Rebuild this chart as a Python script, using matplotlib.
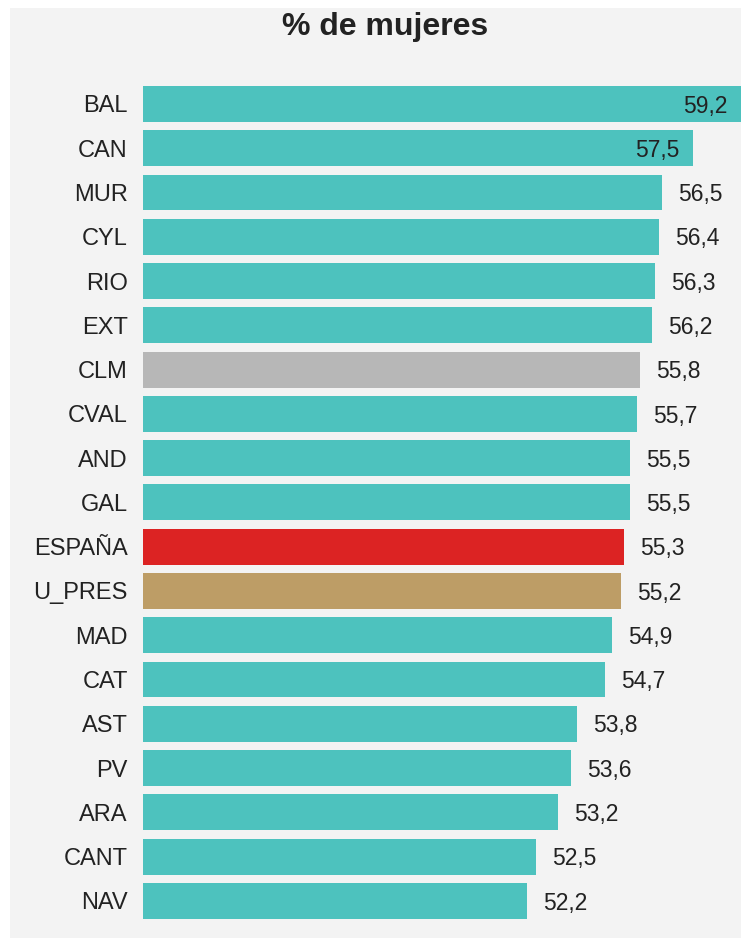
import matplotlib
matplotlib.use("Agg")
import matplotlib.pyplot as plt
from matplotlib.patches import Rectangle

regiones = ["BAL", "CAN", "MUR", "CYL", "RIO", "EXT", "CLM", "CVAL", "AND", "GAL",
            "ESPAÑA", "U_PRES", "MAD", "CAT", "AST", "PV", "ARA", "CANT", "NAV"]
valores = [59.2, 57.5, 56.5, 56.4, 56.3, 56.2, 55.8, 55.7, 55.5, 55.5,
           55.3, 55.2, 54.9, 54.7, 53.8, 53.6, 53.2, 52.5, 52.2]

TEAL = "#4dc2be"
colores = {"CLM": "#b7b7b7", "ESPAÑA": "#dc2323", "U_PRES": "#bd9d66"}
FONDO = "#f3f3f3"

plt.rcParams["font.family"] = ["Liberation Sans", "DejaVu Sans"]

W, H = 741, 938
fig = plt.figure(figsize=(W / 100, H / 100), dpi=100)
fig.patch.set_facecolor("white")
fig.patches.append(Rectangle((10 / W, 0), 1 - 10 / W, 1 - 8 / H,
                             transform=fig.transFigure, facecolor=FONDO,
                             edgecolor="none", zorder=-10))

ax = fig.add_axes([143 / W, 15 / H, 1 - 143 / W, (923.1 - 81.9) / H])
ax.set_facecolor("none")
ax.set_zorder(1)

xmin, xmax = 39.94, 59.03
ypos = list(range(len(regiones)))
cols = [colores.get(r, TEAL) for r in regiones]
ax.barh(ypos, [v - xmin for v in valores], left=xmin, height=0.81, color=cols)

ax.set_xlim(xmin, xmax)
ax.set_ylim(len(regiones) - 0.5, -0.5)

px = (xmax - xmin) / (W - 143)  # data units per pixel
for y, v in zip(ypos, valores):
    txt = f"{v:.1f}".replace(".", ",")
    if v + 16 * px + 48 * px > xmax:
        xe = min(v, xmax)
        ax.text(xe - 14 * px, y + 0.05, txt, ha="right", va="center",
                fontsize=16.5, color="#222222")
    else:
        ax.text(v + 16 * px, y + 0.05, txt, ha="left", va="center",
                fontsize=16.5, color="#222222")

ax.set_yticks(ypos)
ax.set_yticklabels(regiones, fontsize=17, color="#222222")
ax.tick_params(axis="y", length=0, pad=11)
ax.set_xticks([])
for s in ax.spines.values():
    s.set_visible(False)

fig.text(385 / W, 1 - 27 / H, "% de mujeres", ha="center", va="center",
         fontsize=23, fontweight="bold", color="#222222")

fig.savefig("out.png", dpi=100, facecolor=fig.get_facecolor())
